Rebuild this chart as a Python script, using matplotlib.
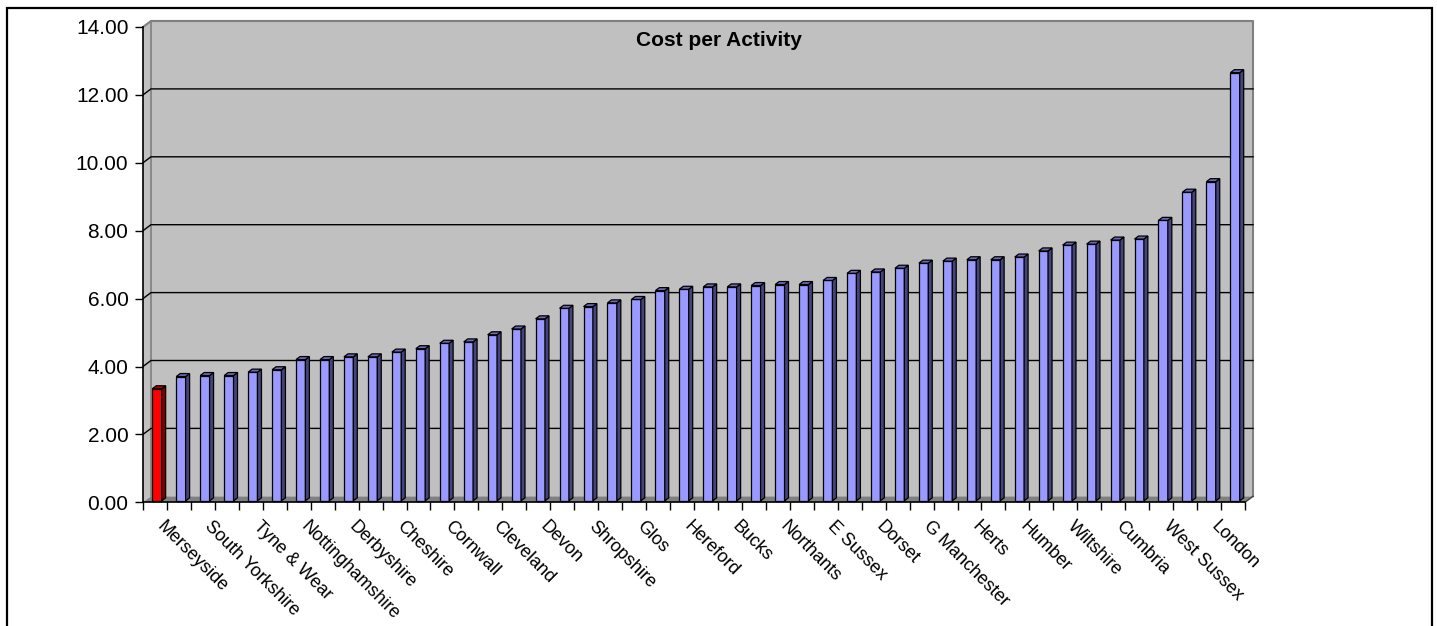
import matplotlib
matplotlib.use("Agg")
import matplotlib.pyplot as plt
from matplotlib.patches import Polygon, Rectangle
from matplotlib.ticker import FormatStrFormatter

plt.rcParams['font.family'] = ['Liberation Sans', 'DejaVu Sans']

# ---------------------------------------------------------------------------
# Data
# ---------------------------------------------------------------------------
title = "Cost per Activity"

# only every second region is labelled on the category axis
shown_labels = ["Merseyside", "South Yorkshire", "Tyne & Wear", "Nottinghamshire",
                "Derbyshire", "Cheshire", "Cornwall", "Cleveland", "Devon",
                "Shropshire", "Glos", "Hereford", "Bucks", "Northants", "E Sussex",
                "Dorset", "G Manchester", "Herts", "Humber", "Wiltshire", "Cumbria",
                "West Sussex", "London"]

values = [3.30, 3.66, 3.69, 3.69, 3.79, 3.86, 4.16, 4.16, 4.24, 4.24,
          4.38, 4.48, 4.64, 4.68, 4.89, 5.06, 5.36, 5.67, 5.72, 5.83,
          5.93, 6.19, 6.23, 6.30, 6.30, 6.34, 6.37, 6.37, 6.49, 6.70,
          6.74, 6.85, 7.00, 7.06, 7.10, 7.10, 7.18, 7.36, 7.53, 7.56,
          7.68, 7.71, 8.26, 9.09, 9.40, 12.61]

highlight = 0            # index of the red bar (Merseyside)
y_ticks = [0, 2, 4, 6, 8, 10, 12, 14]

# ---------------------------------------------------------------------------
# Styling / layout
# ---------------------------------------------------------------------------
W, H = 1437, 626
WALL = "#c0c0c0"
WALL_EDGE = "#808080"
FLOOR = "#808080"
BLUE = ("#9999ff", "#44447a", "#6b6bb8")      # front, side, top
RED = ("#ff0000", "#800000", "#b30000")

fig = plt.figure(figsize=(W / 100, H / 100), dpi=100)
fig.patch.set_facecolor("white")

# front plane of the pseudo-3D plot, in pixels
x_left, x_right = 143, 1245
y_zero, y_top = 502.3, 27.0
ax = fig.add_axes([x_left / W, 1 - y_zero / H,
                   (x_right - x_left) / W, (y_zero - y_top) / H])
ax.set_facecolor("none")

n = len(values)
ymax = y_ticks[-1]
ax.set_xlim(-0.5, n - 0.5)
ax.set_ylim(0, ymax)

px_x = (x_right - x_left) / n
px_y = (y_zero - y_top) / ymax
DX = 8 / px_x            # depth offset of the back wall
DY = 6 / px_y
x0, x1 = -0.5, n - 0.5

# --- back wall, left wall, floor ---
ax.add_patch(Polygon([(x0 + DX, DY), (x1 + DX, DY), (x1 + DX, ymax + DY),
                      (x0 + DX, ymax + DY)], closed=True, fc=WALL, ec="none",
                     zorder=0.5, clip_on=False))
ax.add_patch(Polygon([(x0, 0), (x0 + DX, DY), (x0 + DX, ymax + DY), (x0, ymax)],
                     closed=True, fc=WALL, ec="none", zorder=0.5, clip_on=False))
ax.add_patch(Polygon([(x0, 0), (x1, 0), (x1 + DX, DY), (x0 + DX, DY)],
                     closed=True, fc=FLOOR, ec="none", zorder=0.6, clip_on=False))

# wall borders
ax.plot([x0, x0 + DX, x1 + DX, x1 + DX], [ymax, ymax + DY, ymax + DY, DY],
        color=WALL_EDGE, lw=1.5, zorder=0.7, clip_on=False)
ax.plot([x0 + DX, x0 + DX], [DY, ymax + DY], color=WALL_EDGE, lw=1.2,
        zorder=0.7, clip_on=False)
ax.plot([x1, x1 + DX], [0, DY], color="#404040", lw=1.0, zorder=0.7,
        clip_on=False)

# gridlines across side wall and back wall
for t in y_ticks[1:-1]:
    ax.plot([x0, x0 + DX, x1 + DX], [t, t + DY, t + DY], color="black",
            lw=1.0, zorder=0.8, clip_on=False)

# --- bars ---
w = 0.39
bx, by = 0.25 * DX, 0.25 * DY
sx, sy = 0.5 * DX, 0.5 * DY
for i, v in enumerate(values):
    front, side, top = RED if i == highlight else BLUE
    l = i - w / 2 + bx
    r = i + w / 2 + bx
    b = by
    t = by + v
    kw = dict(closed=True, ec="black", lw=0.9, zorder=2, clip_on=False)
    ax.add_patch(Polygon([(l, b), (r, b), (r, t), (l, t)], fc=front, **kw))
    ax.add_patch(Polygon([(r, b), (r + sx, b + sy), (r + sx, t + sy), (r, t)],
                         fc=side, **kw))
    ax.add_patch(Polygon([(l, t), (r, t), (r + sx, t + sy), (l + sx, t + sy)],
                         fc=top, **kw))

# --- axes ---
for s in ("top", "right"):
    ax.spines[s].set_visible(False)
for s in ("left", "bottom"):
    ax.spines[s].set_color("black")
    ax.spines[s].set_linewidth(1.2)
    ax.spines[s].set_zorder(3)

ax.set_yticks(y_ticks)
ax.yaxis.set_major_formatter(FormatStrFormatter("%.2f"))
ax.tick_params(axis="y", length=5.5, width=1.0, pad=5, labelsize=15,
               colors="black")

# tick marks between categories, labels (minor, no marks) on every 2nd bar
ax.xaxis.remove_overlapping_locs = False
ax.set_xticks([k - 0.5 for k in range(n + 1)])
ax.set_xticklabels([])
ax.tick_params(axis="x", which="major", length=5.5, width=1.0)
label_pos = [2 * k + 0.45 for k in range(len(shown_labels))]
ax.set_xticks(label_pos, minor=True)
ax.set_xticklabels(shown_labels, minor=True, rotation=-45, ha="left",
                   va="top", rotation_mode="anchor", fontsize=13)
ax.tick_params(axis="x", which="minor", length=0, pad=11.5)

# --- title and chart border ---
fig.text(0.5, 1 - 40 / H, title, ha="center", va="center",
         fontsize=15, fontweight="bold")
fig.add_artist(Rectangle((7 / W, -0.05), (1432 - 7) / W, (H - 8) / H + 0.05,
                         transform=fig.transFigure, fill=False,
                         ec="black", lw=1.6))

fig.savefig("out.png", dpi=100)
